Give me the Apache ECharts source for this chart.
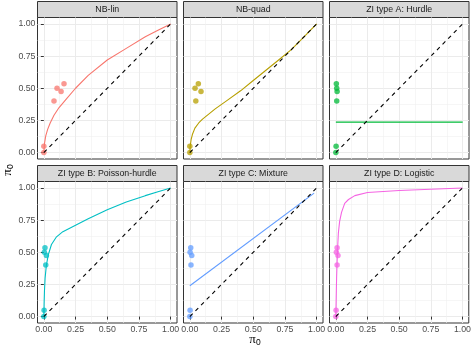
<!DOCTYPE html>
<html>
<head>
<meta charset="utf-8">
<script src="https://cdn.jsdelivr.net/npm/echarts@6/dist/echarts.min.js"></script>
<style>
  html, body { margin: 0; padding: 0; background: #fff; }
  #chart { width: 474px; height: 347px; }
</style>
</head>
<body>
<div id="chart"></div>
<script>
// Facet titles and colours (ggplot hue palette)
const panelTitles = ['NB-lin', 'NB-quad', 'ZI type A: Hurdle',
  'ZI type B: Poisson-hurdle', 'ZI type C: Mixture', 'ZI type D: Logistic'];
const panelColors = ['#F8766D', '#B79F00', '#00BA38', '#00BFC4', '#619CFF', '#F564E3'];

// Axis ticks
const tickValues = [0, 0.25, 0.5, 0.75, 1];
const minorValues = [0.125, 0.375, 0.625, 0.875];

// Observed points: shared y values, per-model x values
const pointY = [0, 0.05, 0.40, 0.475, 0.50, 0.535];
const nbLinPtX = [0, 0, 0.08, 0.136, 0.104, 0.159];
const nbQuadPtX = [0, 0, 0.047, 0.088, 0.041, 0.067];
const hurdlePtX = [0, 0.002, 0.007, 0.01, 0.007, 0.004];
const poisHurdlePtX = [0, 0.002, 0.015, 0.02, 0.004, 0.009];
const mixturePtX = [0, 0.002, 0.009, 0.015, 0.002, 0.007];
const logisticPtX = [0, 0.002, 0.01, 0.017, 0.004, 0.01];

// Model curves
const nbLinX = [0, 0.005, 0.015, 0.03, 0.05, 0.08, 0.12, 0.18, 0.25, 0.35, 0.5, 0.65, 0.8, 0.9, 1];
const nbLinY = [0, 0.07, 0.13, 0.18, 0.23, 0.29, 0.35, 0.42, 0.5, 0.6, 0.72, 0.81, 0.9, 0.95, 1];
const nbQuadX = [0, 0.003, 0.01, 0.02, 0.04, 0.07, 0.1, 0.2, 0.3, 0.4, 0.5, 0.6, 0.7, 0.8, 0.9, 1];
const nbQuadY = [0, 0.05, 0.1, 0.14, 0.19, 0.23, 0.26, 0.34, 0.41, 0.48, 0.56, 0.64, 0.72, 0.8, 0.9, 1];
const hurdleX = [0, 1];
const hurdleY = [0.237, 0.237];
const poisHurdleX = [0, 0.002, 0.005, 0.01, 0.02, 0.035, 0.06, 0.1, 0.15, 0.25, 0.35, 0.5, 0.65, 0.8, 0.9, 1];
const poisHurdleY = [0, 0.1, 0.2, 0.3, 0.4, 0.48, 0.56, 0.62, 0.66, 0.71, 0.76, 0.83, 0.89, 0.94, 0.97, 1];
const mixtureX = [0, 0.98];
const mixtureY = [0.24, 0.96];
const logisticX = [0, 0.003, 0.006, 0.01, 0.015, 0.02, 0.03, 0.045, 0.07, 0.1, 0.15, 0.25, 0.5, 0.75, 1];
const logisticY = [0, 0.15, 0.3, 0.42, 0.55, 0.65, 0.74, 0.81, 0.88, 0.91, 0.94, 0.965, 0.98, 0.99, 1];

// Reference diagonal
const diagX = [0, 1];
const diagY = [0, 1];

const pointXs = [nbLinPtX, nbQuadPtX, hurdlePtX, poisHurdlePtX, mixturePtX, logisticPtX];
const curveXs = [nbLinX, nbQuadX, hurdleX, poisHurdleX, mixtureX, logisticX];
const curveYs = [nbLinY, nbQuadY, hurdleY, poisHurdleY, mixtureY, logisticY];

const zip = (xs, ys) => xs.map((x, i) => [x, ys[i]]);

// Layout of the 3 x 2 facet grid
const colLeft = [37.5, 183.5, 329.5];
const rowTop = [17.5, 181.5];
const panelW = 139.5, panelH = 141.5, stripH = 16;
const FONT = 'Liberation Sans, Arial, sans-serif';

const grid = [], xAxis = [], yAxis = [], series = [], graphic = [];

panelTitles.forEach((title, i) => {
  const col = i % 3, row = Math.floor(i / 3);
  const left = colLeft[col], top = rowTop[row];
  grid.push({ left, top, width: panelW, height: panelH, show: true,
    backgroundColor: '#fff', borderColor: '#333333', borderWidth: 1 });

  const showX = row === 1, showY = col === 0;
  const major = (show) => ({
    gridIndex: i, type: 'value', min: -0.05, max: 1.05,
    axisLine: { show: false },
    axisTick: { show, customValues: tickValues, length: 3, lineStyle: { color: '#333333', width: 1 } },
    axisLabel: { show, customValues: tickValues, formatter: v => v.toFixed(2),
      color: '#4D4D4D', fontSize: 8.8, fontFamily: FONT, margin: 2 },
    splitLine: { show: true, lineStyle: { color: '#EBEBEB', width: 1 } }
  });
  const minor = () => ({
    gridIndex: i, type: 'value', min: -0.05, max: 1.05,
    axisLine: { show: false },
    axisTick: { show: false, customValues: minorValues },
    axisLabel: { show: false, customValues: minorValues },
    splitLine: { show: true, lineStyle: { color: '#F0F0F0', width: 0.6 } }
  });
  xAxis.push(major(showX), minor());
  yAxis.push(major(showY), minor());

  const ax = 2 * i;
  series.push({
    type: 'scatter', xAxisIndex: ax, yAxisIndex: ax, symbolSize: 5.5,
    itemStyle: { color: panelColors[i], opacity: 0.75 },
    data: zip(pointXs[i], pointY), z: 3
  });
  series.push({
    type: 'line', xAxisIndex: ax, yAxisIndex: ax, showSymbol: false,
    lineStyle: { color: panelColors[i], width: 1.1 },
    data: zip(curveXs[i], curveYs[i]), z: 4
  });
  series.push({
    type: 'line', xAxisIndex: ax, yAxisIndex: ax, showSymbol: false,
    lineStyle: { color: '#000', width: 1.1, type: [4, 4] },
    data: zip(diagX, diagY), z: 5
  });

  // facet strip
  graphic.push({
    type: 'rect', shape: { x: left, y: top - stripH, width: panelW, height: stripH },
    style: { fill: '#D9D9D9', stroke: '#333333', lineWidth: 1 }
  });
  graphic.push({
    type: 'text', x: left + panelW / 2, y: top - stripH / 2,
    style: { text: title, fill: '#1A1A1A', font: '8.8px ' + FONT,
      align: 'center', verticalAlign: 'middle', textAlign: 'center', textVerticalAlign: 'middle' }
  });
});

// Axis titles (pi with subscript zero)
const piRich = {
  p: { fontSize: 13, fontFamily: 'Liberation Serif, serif', fill: '#000' },
  s: { fontSize: 8.5, fontFamily: 'Liberation Sans, sans-serif', fill: '#000', padding: [6, 0, 0, 0] }
};
graphic.push({
  type: 'text', x: 255, y: 340,
  style: { text: '{p|π}{s|0}', rich: piRich, align: 'center', verticalAlign: 'middle',
    textAlign: 'center', textVerticalAlign: 'middle' }
});
graphic.push({
  type: 'text', x: 8, y: 170, rotation: Math.PI / 2,
  style: { text: '{p|π}{s|0}', rich: piRich, align: 'center', verticalAlign: 'middle',
    textAlign: 'center', textVerticalAlign: 'middle' }
});

const chart = echarts.init(document.getElementById('chart'), null, { renderer: 'canvas' });
chart.setOption({
  animation: false,
  backgroundColor: '#fff',
  grid, xAxis, yAxis, series, graphic
});
</script>
</body>
</html>
